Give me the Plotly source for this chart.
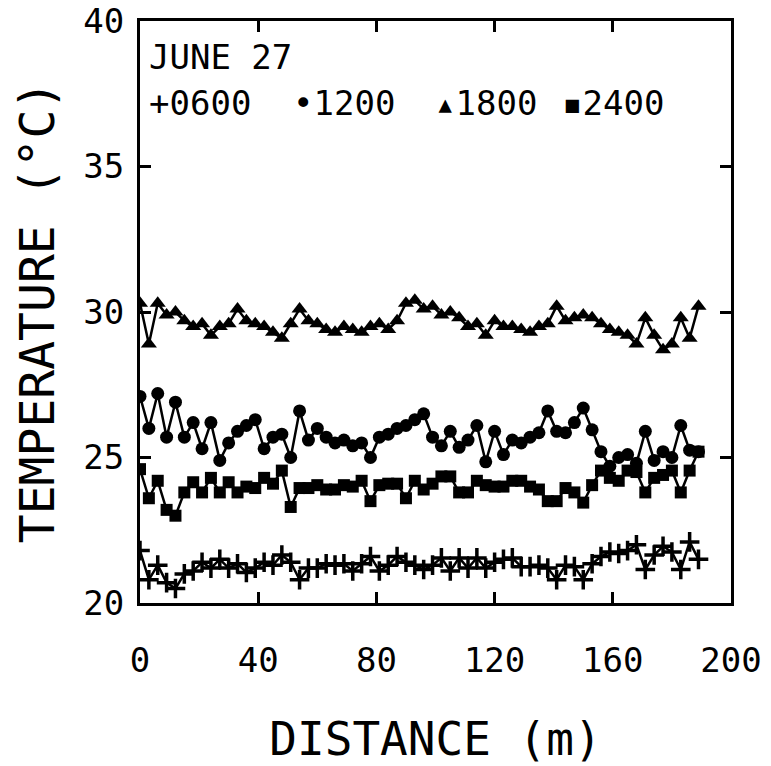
import plotly.graph_objects as go

DISTANCE = list(range(0, 192, 3))  # metres, 0..189

T0600 = [21.8, 20.8, 21.3, 20.7, 20.5, 21.0, 21.1, 21.4, 21.2, 21.5,
         21.2, 21.35, 21.05, 21.2, 21.4, 21.3, 21.65, 21.4, 20.8, 21.2,
         21.2, 21.35, 21.3, 21.35, 21.1, 21.35, 21.6, 21.1, 21.3, 21.6,
         21.4, 21.3, 21.15, 21.3, 21.55, 21.1, 21.55, 21.2, 21.55, 21.2,
         21.4, 21.5, 21.55, 21.25, 21.25, 21.3, 21.2, 20.8, 21.3, 21.25,
         20.8, 21.35, 21.6, 21.75, 21.7, 21.8, 22.0, 21.15, 21.65, 21.95,
         21.75, 21.15, 22.1, 21.5]

T1200 = [27.1, 26.0, 27.2, 25.7, 26.9, 25.7, 26.2, 25.3, 26.2, 24.9,
         25.5, 25.9, 26.1, 26.3, 25.3, 25.7, 25.8, 25.0, 26.6, 25.6,
         26.0, 25.7, 25.5, 25.6, 25.4, 25.5, 25.0, 25.7, 25.8, 26.0,
         26.1, 26.3, 26.5, 25.7, 25.4, 25.9, 25.35, 25.6, 26.1, 24.85,
         25.9, 25.1, 25.6, 25.5, 25.7, 25.85, 26.6, 25.9, 25.85, 26.2,
         26.7, 25.95, 25.2, 24.7, 25.0, 25.1, 24.8, 25.9, 24.9, 25.2,
         25.0, 26.1, 25.25, 25.2]

T1800 = [30.3, 28.9, 30.3, 29.9, 30.0, 29.7, 29.5, 29.6, 29.2, 29.5,
         29.6, 30.1, 29.7, 29.6, 29.5, 29.3, 29.1, 29.6, 30.1, 29.7,
         29.6, 29.4, 29.3, 29.5, 29.4, 29.3, 29.5, 29.6, 29.4, 29.7,
         30.3, 30.4, 30.1, 30.2, 29.9, 30.0, 29.8, 29.5, 29.6, 29.2,
         29.7, 29.5, 29.5, 29.4, 29.3, 29.5, 29.6, 30.2, 29.7, 29.8,
         29.9, 29.8, 29.6, 29.4, 29.3, 29.2, 28.9, 29.8, 29.2, 28.7,
         28.9, 29.8, 29.1, 30.2]

T2400 = [24.6, 23.6, 24.2, 23.2, 23.0, 23.8, 24.15, 23.8, 24.3, 23.8,
         24.15, 23.8, 24.0, 23.95, 24.3, 24.1, 24.55, 23.3, 23.95, 23.95,
         24.05, 23.9, 23.9, 24.05, 24.0, 24.2, 23.5, 24.05, 24.1, 24.1,
         23.6, 24.2, 23.9, 24.1, 24.35, 24.35, 23.8, 23.8, 24.2, 24.05,
         24.0, 24.0, 24.2, 24.2, 24.0, 23.9, 23.5, 23.5, 23.95, 23.8,
         23.45, 24.05, 24.55, 24.3, 24.2, 24.55, 24.5, 23.8, 24.3, 24.4,
         24.55, 23.8, 24.55, 25.2]

X_TICKS = [0, 40, 80, 120, 160, 200]
Y_TICKS = [20, 25, 30, 35, 40]
SERIES_LABELS = ["+0600", "\u20221200", "\u25b41800", "\u25aa2400"]

FONT = "DejaVu Sans Mono, DejaVu Sans"

fig = go.Figure()
styles = [
    (T0600, "cross-thin", 14, 3.5),
    (T1200, "circle", 13, 0),
    (T1800, "triangle-up", 14, 0),
    (T2400, "square", 12, 0),
]
for vals, sym, size, lw in styles:
    fig.add_trace(go.Scatter(
        x=DISTANCE, y=vals, mode="lines+markers",
        line=dict(color="black", width=2.5),
        marker=dict(symbol=sym, size=size, color="black",
                    line=dict(color="black", width=lw)),
        showlegend=False,
    ))

axis_common = dict(
    showline=True, linecolor="black", linewidth=3, mirror="allticks",
    ticks="inside", ticklen=11, tickwidth=3, tickcolor="black",
    showgrid=False, zeroline=False, automargin=False,
    tickfont=dict(family=FONT, size=34, color="black"),
)

fig.update_xaxes(
    range=[0, 200], tickvals=X_TICKS, ticktext=[str(v) for v in X_TICKS],
    ticklabelstandoff=25,
    title=dict(text="DISTANCE (m)", font=dict(family=FONT, size=46, color="black"),
               standoff=45),
    **axis_common,
)
fig.update_yaxes(
    range=[20, 40], tickvals=Y_TICKS, ticktext=[str(v) for v in Y_TICKS],
    ticklabelstandoff=6,
    title=dict(text="TEMPERATURE (\u00b0C)", font=dict(family=FONT, size=48, color="black"),
               standoff=14),
    **axis_common,
)

fig.add_annotation(xref="paper", yref="paper", x=0.012, y=0.938, text="JUNE 27",
                   showarrow=False, xanchor="left", yanchor="middle",
                   font=dict(family=FONT, size=34, color="black"))
label_x = [0.012, 0.255, 0.495, 0.71]
for lx, txt in zip(label_x, SERIES_LABELS):
    fig.add_annotation(xref="paper", yref="paper", x=lx, y=0.859, text=txt,
                       showarrow=False, xanchor="left", yanchor="middle",
                       font=dict(family=FONT, size=34, color="black"))

fig.update_layout(
    width=771, height=766,
    margin=dict(l=140, r=40, t=21, b=163),
    paper_bgcolor="white", plot_bgcolor="white",
)

fig.write_html("out.html")
